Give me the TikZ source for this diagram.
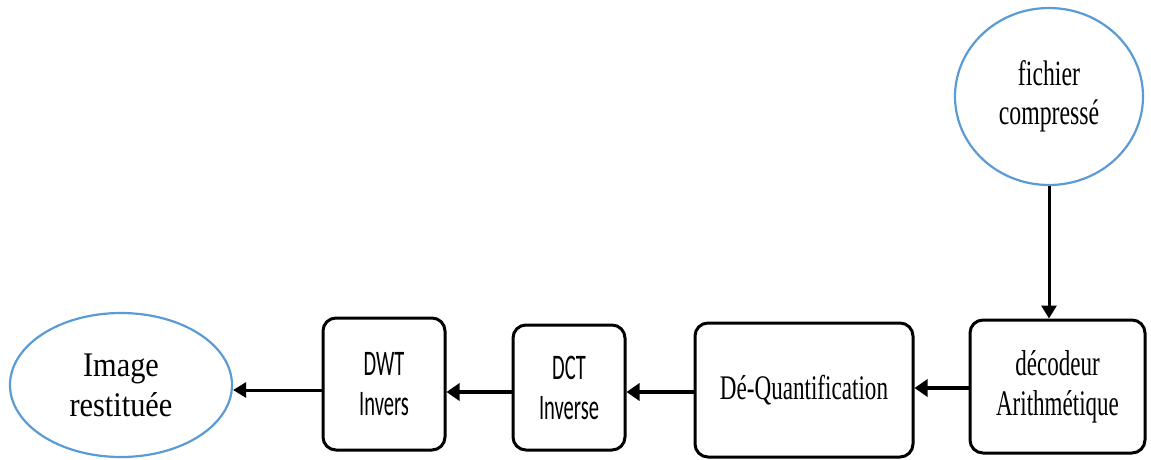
\documentclass[tikz,border=0pt]{standalone}
\usepackage{fontspec}
\usetikzlibrary{arrows.meta,shapes.geometric}
\setmainfont{Liberation Serif}
% narrowed faces for the labels
\newfontfamily\serifwide[FakeStretch=0.88]{Liberation Serif}
\newfontfamily\serifmid[FakeStretch=0.67]{Liberation Serif}
\newfontfamily\serifnarrow[FakeStretch=0.64]{Liberation Serif}
\newfontfamily\sansnarrow[FakeStretch=0.57]{Carlito}
\definecolor{ovalblue}{RGB}{91,155,213}
\tikzset{
  oval/.style={ellipse, draw=ovalblue, line width=2.2pt, inner sep=0pt, align=center},
  blockbox/.style={draw=black, line width=3pt, rounded corners=13pt, inner sep=0pt, align=center},
  flow/.style={line width=4.6pt, -{Triangle[length=13pt,width=17pt]}},
  thinflow/.style={line width=3pt, -{Triangle[length=13pt,width=15pt]}},
}
\begin{document}
\begin{tikzpicture}[x=1pt,y=-1pt]
\useasboundingbox (0,0) rectangle (1151,459);

% sources and sinks
\node[oval, minimum width=222pt, minimum height=144pt,
      font=\serifwide\fontsize{34.5}{40}\selectfont] (img) at (121,385) {Image\\restituée};
\node[oval, minimum width=188pt, minimum height=177pt,
      font=\serifmid\fontsize{35.5}{39}\selectfont] (fich) at (1049,96.5) {fichier\\compressé};

% processing blocks
\node[blockbox, minimum width=122pt, minimum height=132pt,
      font=\sansnarrow\fontsize{36}{40}\selectfont] (dwt) at (384,384) {DWT\\Invers};
\node[blockbox, minimum width=112pt, minimum height=125pt,
      font=\sansnarrow\fontsize{36}{40}\selectfont] (dct) at (569,387.5) {DCT\\Inverse};
\node[blockbox, minimum width=218pt, minimum height=134pt,
      font=\serifmid\fontsize{34.5}{40}\selectfont] (deq) at (804,390) {Dé-Quantification};
\node[blockbox, minimum width=175pt, minimum height=133pt,
      font=\serifnarrow\fontsize{36}{40}\selectfont] (dec) at (1057.5,386.5) {décodeur\\Arithmétique};

% data flow
\draw[thinflow] (fich.south) -- (fich.south |- dec.north);
\draw[flow] (dec.west |- 0,388) -- (deq.east |- 0,388);
\draw[flow] (deq.west |- 0,392) -- (dct.east |- 0,392);
\draw[flow] (dct.west |- 0,392) -- (dwt.east |- 0,392);
\draw[thinflow] (dwt.west |- 0,390) -- (img.east |- 0,390);
\end{tikzpicture}
\end{document}
